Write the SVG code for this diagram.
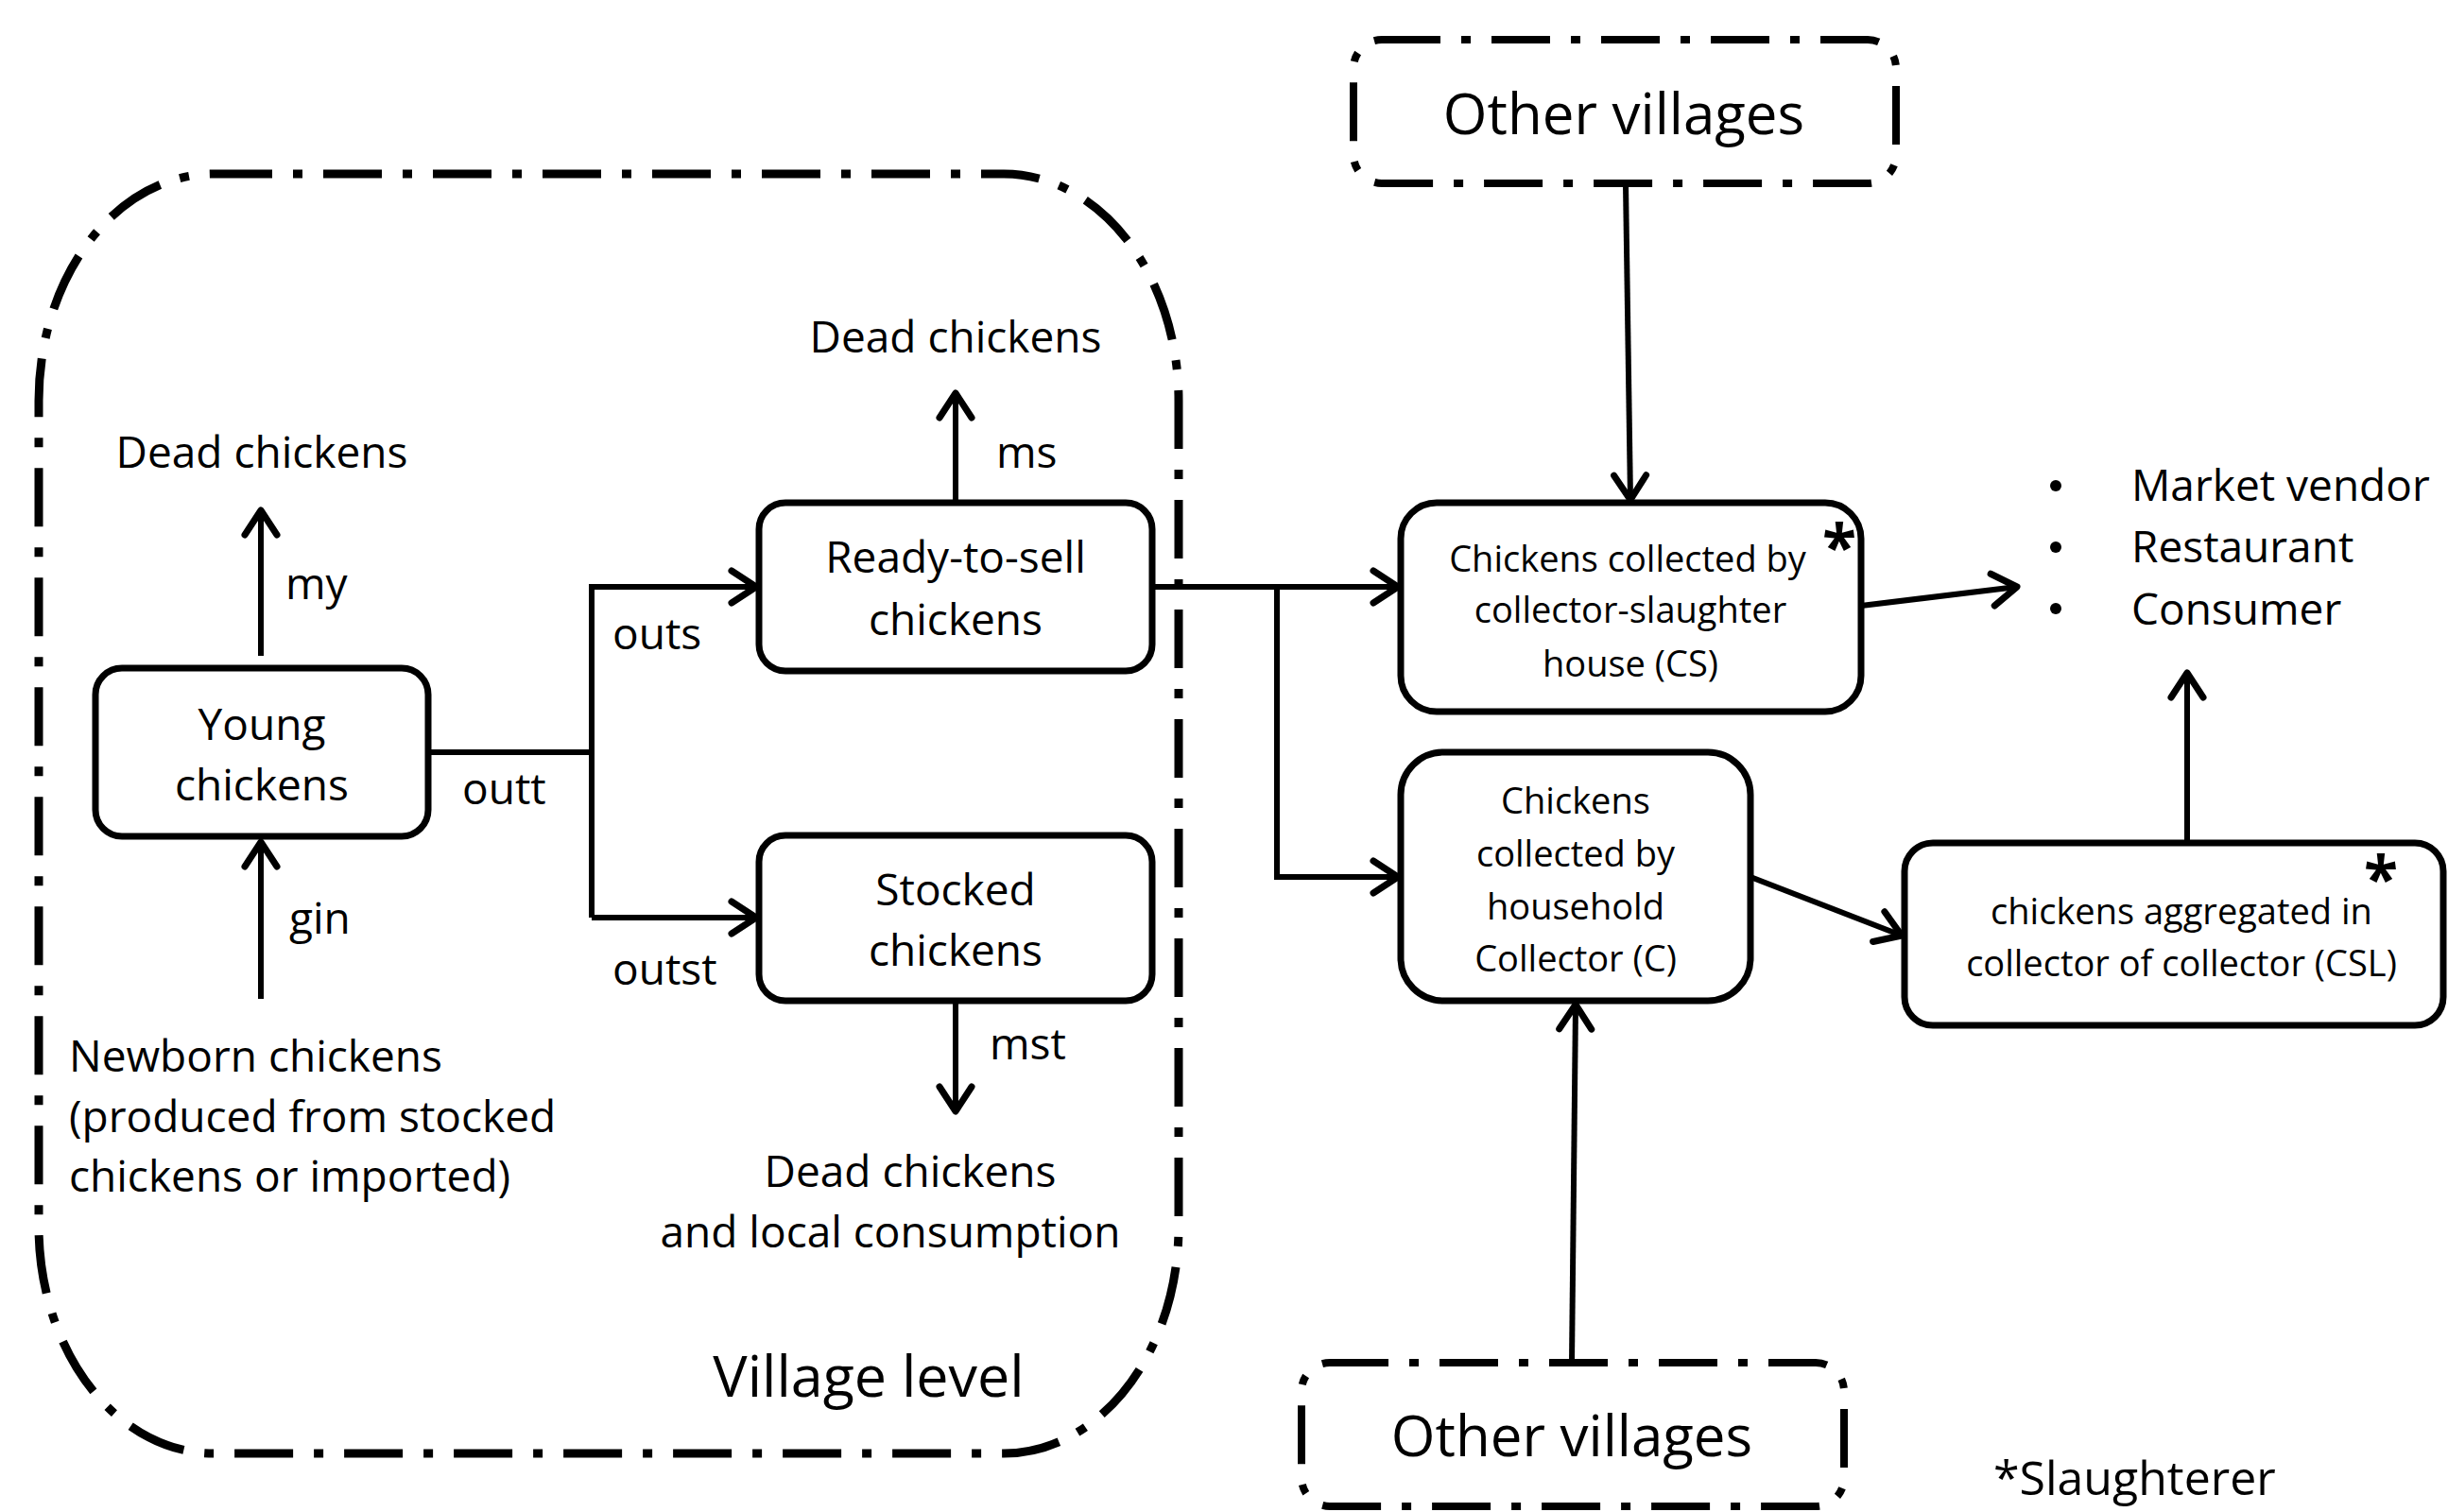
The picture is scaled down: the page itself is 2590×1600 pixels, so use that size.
<svg xmlns="http://www.w3.org/2000/svg" width="2590" height="1600" viewBox="0 0 2590 1600">
<defs>
<style>
text{font-family:"Open Sans","Noto Sans","Liberation Sans",sans-serif;fill:#000}
.t{font-size:46px}
.s{font-size:38px}
.b{font-size:60px}
.m{text-anchor:middle}
.node{fill:#fff;stroke:#000;stroke-width:7}
.dd{fill:none;stroke:#000;stroke-width:9;stroke-dasharray:62 22 10 22}
.ln{fill:none;stroke:#000;stroke-width:6;stroke-linejoin:miter}
</style>
<marker id="ah" viewBox="-32 -22 36 44" markerWidth="36" markerHeight="44" refX="0" refY="0" orient="auto" markerUnits="userSpaceOnUse">
<path d="M-26,-17 L0,0 L-26,17" fill="none" stroke="#000" stroke-width="7" stroke-linecap="round" stroke-linejoin="round"/>
</marker>
</defs>
<rect width="2590" height="1600" fill="#fff"/>

<g id="village">
<rect class="dd" x="41" y="184" width="1206" height="1354" rx="185" ry="240"/>
<text class="m" x="919" y="1478" style="font-size:61px">Village level</text>
</g>

<g id="connectors">
<line class="ln" x1="276" y1="694" x2="276" y2="540" marker-end="url(#ah)"/>
<line class="ln" x1="276" y1="1057" x2="276" y2="891" marker-end="url(#ah)"/>
<polyline class="ln" points="453,796 626,796"/>
<polyline class="ln" points="626,971 626,621 800,621" marker-end="url(#ah)"/>
<polyline class="ln" points="626,971 800,971" marker-end="url(#ah)"/>
<line class="ln" x1="1011" y1="532" x2="1011" y2="416" marker-end="url(#ah)"/>
<line class="ln" x1="1011" y1="1059" x2="1011" y2="1176" marker-end="url(#ah)"/>
<polyline class="ln" points="1219,621 1479,621" marker-end="url(#ah)"/>
<polyline class="ln" points="1351,621 1351,928 1479,928" marker-end="url(#ah)"/>
<line class="ln" x1="1720" y1="195" x2="1725" y2="529" marker-end="url(#ah)"/>
<line class="ln" x1="1663" y1="1442" x2="1667" y2="1063" marker-end="url(#ah)"/>
<line class="ln" x1="1969" y1="641" x2="2134" y2="621" marker-end="url(#ah)"/>
<line class="ln" x1="1852" y1="928" x2="2012" y2="990" marker-end="url(#ah)"/>
<line class="ln" x1="2314" y1="892" x2="2314" y2="712" marker-end="url(#ah)"/>
</g>

<g id="labels">
<text class="t m" x="277" y="495">Dead chickens</text>
<text class="t" x="302" y="634">my</text>
<text class="t" x="306" y="988">gin</text>
<text class="t" x="73" y="1134">Newborn chickens</text>
<text class="t" x="73" y="1198">(produced from stocked</text>
<text class="t" x="73" y="1261">chickens or imported)</text>
<text class="t" x="489" y="851">outt</text>
<text class="t" x="648" y="687">outs</text>
<text class="t" x="648" y="1042">outst</text>
<text class="t" x="1054" y="495">ms</text>
<text class="t m" x="1011" y="373">Dead chickens</text>
<text class="t" x="1047" y="1121">mst</text>
<text class="t m" x="963" y="1256">Dead chickens</text>
<text class="t m" x="942" y="1320">and local consumption</text>
<text class="t" x="2109" y="1582" style="font-size:50px">*Slaughterer</text>
</g>

<g id="young">
<rect class="node" x="101" y="707" width="352" height="178" rx="28"/>
<text class="t m" x="277" y="783">Young</text>
<text class="t m" x="277" y="847">chickens</text>
</g>

<g id="ready">
<rect class="node" x="803" y="532" width="416" height="178" rx="28"/>
<text class="t m" x="1011" y="606">Ready-to-sell</text>
<text class="t m" x="1011" y="672">chickens</text>
</g>

<g id="stocked">
<rect class="node" x="803" y="884" width="416" height="175" rx="28"/>
<text class="t m" x="1011" y="958">Stocked</text>
<text class="t m" x="1011" y="1022">chickens</text>
</g>

<g id="cs">
<rect class="node" x="1482" y="532" width="487" height="221" rx="38"/>
<text class="s m" x="1722" y="605">Chickens collected by</text>
<text class="s m" x="1725" y="659">collector-slaughter</text>
<text class="s m" x="1725" y="716">house (CS)</text>
<text class="m" x="1946" y="603" style="font-size:66px;font-weight:bold">*</text>
</g>

<g id="c">
<rect class="node" x="1482" y="796" width="370" height="263" rx="45"/>
<text class="s m" x="1667" y="861">Chickens</text>
<text class="s m" x="1667" y="917">collected by</text>
<text class="s m" x="1667" y="973">household</text>
<text class="s m" x="1667" y="1028">Collector (C)</text>
</g>

<g id="csl">
<rect class="node" x="2015" y="892" width="570" height="193" rx="30"/>
<text class="s m" x="2308" y="978">chickens aggregated in</text>
<text class="s m" x="2308" y="1033">collector of collector (CSL)</text>
<text class="m" x="2519" y="954" style="font-size:66px;font-weight:bold">*</text>
</g>

<g id="outlets">
<circle cx="2175" cy="514" r="6"/>
<circle cx="2175" cy="579" r="6"/>
<circle cx="2175" cy="644" r="6"/>
<text class="t" x="2255" y="530">Market vendor</text>
<text class="t" x="2255" y="595">Restaurant</text>
<text class="t" x="2255" y="661">Consumer</text>
</g>

<g id="ov-top">
<rect class="dd" x="1432" y="42" width="574" height="152" rx="30" style="stroke-width:8"/>
<text class="b m" x="1718" y="142">Other villages</text>
</g>

<g id="ov-bottom">
<rect class="dd" x="1377" y="1442" width="574" height="152" rx="30" style="stroke-width:8"/>
<text class="b m" x="1663" y="1541">Other villages</text>
</g>
</svg>
